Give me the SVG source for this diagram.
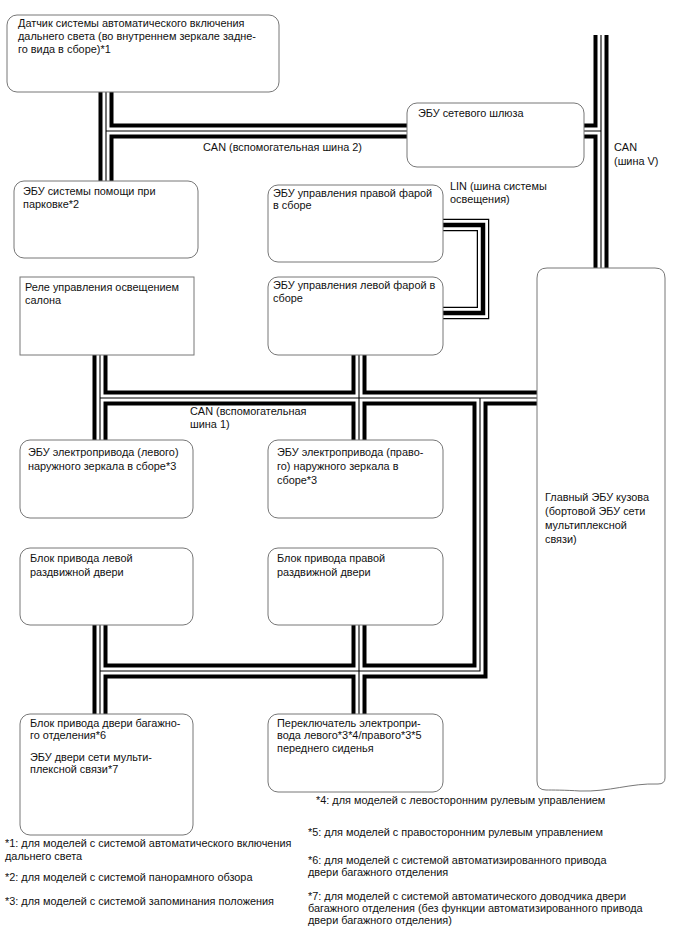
<svg xmlns="http://www.w3.org/2000/svg" xmlns:xlink="http://www.w3.org/1999/xlink" width="688" height="949" viewBox="0 0 688 949">
<style>
text{font-family:"Liberation Sans",Arial,sans-serif;font-size:10.9px;fill:#111}
.box{fill:#fff;stroke:#777;stroke-width:1}
.bk{fill:none;stroke:#000;stroke-width:15;stroke-linejoin:miter}
.wh{fill:none;stroke:#fff;stroke-width:7;stroke-linejoin:miter}
.th{fill:none;stroke:#000;stroke-width:1.1;stroke-linejoin:miter}
.lbk{fill:none;stroke:#000;stroke-width:12.5}
.lwh{fill:none;stroke:#fff;stroke-width:10}
.lth{fill:none;stroke:#000;stroke-width:4.5}
</style>
<defs>
<path id="can" d="M106,92 V181 M106,131 H407 M601,35 V269 M584,131 H601 M100,355 V440 M100,398 H537 M359,355 V440 M480,398 V671 H100 M100,625 V714 M359,625 V714"/>
<path id="lin" d="M443,225 H483 V313 H443"/>
</defs>
<rect width="688" height="949" fill="#fff"/>
<g id="connectors">
<use xlink:href="#can" class="bk"/>
<use xlink:href="#can" class="wh"/>
<use xlink:href="#can" class="th"/>
<use xlink:href="#lin" class="lbk"/>
<use xlink:href="#lin" class="lwh"/>
<use xlink:href="#lin" class="lth"/>
<text x="203" y="151">CAN (вспомогательная шина 2)</text>
<text x="614" y="151">CAN</text>
<text x="614" y="165">(шина V)</text>
<text x="450" y="190">LIN (шина системы</text>
<text x="450" y="203">освещения)</text>
<text x="190" y="415">CAN (вспомогательная</text>
<text x="190" y="428">шина 1)</text>
</g>
<g id="sensor"><rect class="box" x="7" y="15" width="272" height="77" rx="10"/>
<text x="18" y="27">Датчик системы автоматического включения</text>
<text x="18" y="40">дальнего света (во внутреннем зеркале задне-</text>
<text x="18" y="53">го вида в сборе)*1</text></g>
<g id="gateway"><rect class="box" x="407" y="103" width="177" height="64" rx="10"/>
<text x="418" y="117">ЭБУ сетевого шлюза</text></g>
<g id="parking"><rect class="box" x="14" y="181" width="184" height="77" rx="10"/>
<text x="23" y="195">ЭБУ системы помощи при</text>
<text x="23" y="208">парковке*2</text></g>
<g id="rhead"><rect class="box" x="268" y="185" width="175" height="77" rx="10"/>
<text x="273" y="197">ЭБУ управления правой фарой</text>
<text x="273" y="209">в сборе</text></g>
<g id="relay"><rect class="box" x="20" y="277" width="174" height="78"/>
<text x="25" y="291">Реле управления освещением</text>
<text x="25" y="304">салона</text></g>
<g id="lhead"><rect class="box" x="268" y="277" width="175" height="78" rx="10"/>
<text x="273" y="289">ЭБУ управления левой фарой в</text>
<text x="273" y="302">сборе</text></g>
<g id="lmirror"><rect class="box" x="20" y="440" width="173" height="78" rx="10"/>
<text x="28" y="456">ЭБУ электропривода (левого)</text>
<text x="28" y="470">наружного зеркала в сборе*3</text></g>
<g id="rmirror"><rect class="box" x="268" y="440" width="175" height="78" rx="10"/>
<text x="277" y="456">ЭБУ электропривода (право-</text>
<text x="277" y="470">го) наружного зеркала в</text>
<text x="277" y="484">сборе*3</text></g>
<g id="lslide"><rect class="box" x="20" y="548" width="173" height="77" rx="10"/>
<text x="30" y="562">Блок привода левой</text>
<text x="30" y="576">раздвижной двери</text></g>
<g id="rslide"><rect class="box" x="268" y="548" width="175" height="77" rx="10"/>
<text x="277" y="562">Блок привода правой</text>
<text x="277" y="576">раздвижной двери</text></g>
<g id="tailgate"><rect class="box" x="20" y="714" width="173" height="121" rx="10"/>
<text x="30" y="727">Блок привода двери багажно-</text>
<text x="30" y="739">го отделения*6</text>
<text x="30" y="761">ЭБУ двери сети мульти-</text>
<text x="30" y="773">плексной связи*7</text></g>
<g id="seat"><rect class="box" x="268" y="714" width="175" height="78" rx="10"/>
<text x="277" y="727">Переключатель электропри-</text>
<text x="277" y="739">вода левого*3*4/правого*3*5</text>
<text x="277" y="752">переднего сиденья</text></g>
<g id="body"><path class="box" d="M547,268 H655 Q665,268 665,278 V778 Q665,784 658,784 C630,783 610,792 580,791 C565,790 552,790 546,790 Q537,790 537,781 V278 Q537,268 547,268 Z"/>
<text x="545" y="501">Главный ЭБУ кузова</text>
<text x="545" y="515">(бортовой ЭБУ сети</text>
<text x="545" y="529">мультиплексной</text>
<text x="545" y="543">связи)</text></g>
<g id="notes">
<text x="316" y="804">*4: для моделей с левосторонним рулевым управлением</text>
<text x="308" y="836">*5: для моделей с правосторонним рулевым управлением</text>
<text x="308" y="864">*6: для моделей с системой автоматизированного привода</text>
<text x="308" y="876">двери багажного отделения</text>
<text x="308" y="900">*7: для моделей с системой автоматического доводчика двери</text>
<text x="308" y="912">багажного отделения (без функции автоматизированного привода</text>
<text x="308" y="924">двери багажного отделения)</text>
<text x="5" y="847">*1: для моделей с системой автоматического включения</text>
<text x="5" y="860">дальнего света</text>
<text x="5" y="881">*2: для моделей с системой панорамного обзора</text>
<text x="5" y="905">*3: для моделей с системой запоминания положения</text>
</g>
</svg>
